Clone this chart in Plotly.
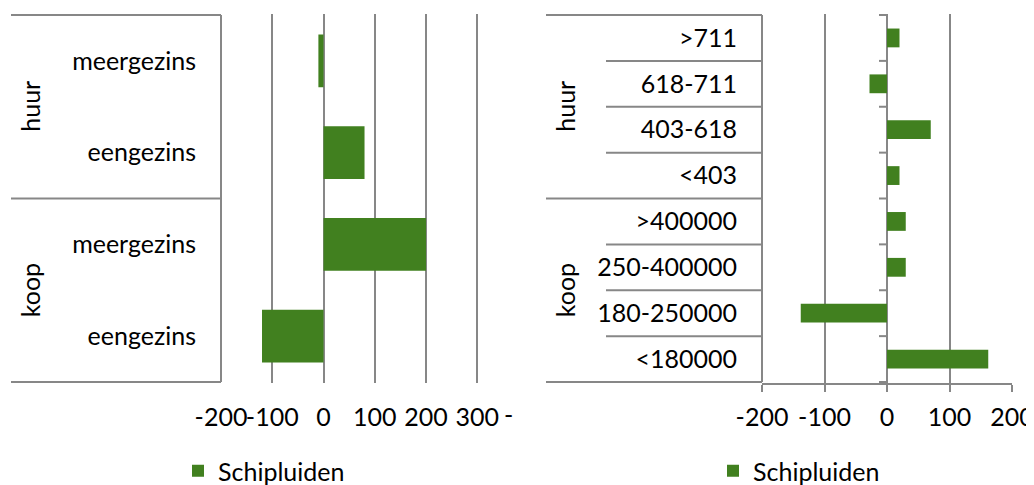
import plotly.graph_objects as go

# ---------------- data ----------------
left_groups = ["huur", "huur", "koop", "koop"]
left_types = ["meergezins", "eengezins", "meergezins", "eengezins"]
left_values = [-10, 80, 200, -120]

right_groups = ["huur", "huur", "huur", "huur", "koop", "koop", "koop", "koop"]
right_classes = [">711", "618-711", "403-618", "<403",
                 ">400000", "250-400000", "180-250000", "<180000"]
right_values = [20, -28, 70, 20, 30, 30, -138, 162]

left_ticks = [-200, -100, 0, 100, 200, 300]
right_ticks = [-200, -100, 0, 100, 200]
series_name = "Schipluiden"

# ---------------- style ----------------
OFF = 8  # page body margin
W, H = 1034 - OFF, 510
GREEN = "#41801F"
GRAY = "#878787"
FONT = dict(family="Lato, 'Open Sans', sans-serif", size=25, color="#000000")


def px(x):
    return (x - OFF) / W


def py(y):
    return 1 - (y - OFF) / H


left_ids = [f"{g}|{t}|{i}" for i, (g, t) in enumerate(zip(left_groups, left_types))]
right_ids = [f"{g}|{c}" for g, c in zip(right_groups, right_classes)]

fig = go.Figure()
fig.add_trace(go.Bar(
    x=left_values, y=left_ids, orientation="h", name=series_name,
    marker=dict(color=GREEN, line=dict(width=0)), width=0.575,
    xaxis="x", yaxis="y", legend="legend", showlegend=True,
))
fig.add_trace(go.Bar(
    x=right_values, y=right_ids, orientation="h", name=series_name,
    marker=dict(color=GREEN, line=dict(width=0)), width=0.41,
    xaxis="x2", yaxis="y2", legend="legend2", showlegend=True,
))

shapes = []
annotations = []


def group_info(groups):
    out = []
    start = 0
    for i in range(1, len(groups) + 1):
        if i == len(groups) or groups[i] != groups[start]:
            out.append((groups[start], start, i - 1))
            start = i
    return out


def hline(xref, x0, x1, yref, y):
    return dict(type="line", xref=xref, yref=yref, x0=x0, x1=x1, y0=y, y1=y,
                line=dict(color=GRAY, width=2), layer="above")


# left chart category box lines
for g, s, e in group_info(left_groups):
    shapes.append(hline("paper", px(11), px(221), "y", s - 0.5))
    annotations.append(dict(xref="paper", yref="y", x=px(30), y=(s + e) / 2,
                            xanchor="center", yanchor="middle",
                            text=g, textangle=-90, showarrow=False, font=FONT))
shapes.append(hline("paper", px(11), px(221), "y", len(left_groups) - 0.5))
shapes.append(dict(type="line", xref="paper", yref="y", x0=px(221), x1=px(221),
                   y0=-0.5, y1=len(left_groups) - 0.5,
                   line=dict(color=GRAY, width=2), layer="above"))

# right chart category box lines
for g, s, e in group_info(right_groups):
    shapes.append(hline("paper", px(546), px(762), "y2", s - 0.5))
    for k in range(s + 1, e + 1):
        shapes.append(hline("paper", px(606), px(762), "y2", k - 0.5))
    annotations.append(dict(xref="paper", yref="y2", x=px(565), y=(s + e) / 2,
                            xanchor="center", yanchor="middle",
                            text=g, textangle=-90, showarrow=False, font=FONT))
shapes.append(hline("paper", px(546), px(762), "y2", len(right_groups) - 0.5))
shapes.append(dict(type="line", xref="paper", yref="y2", x0=px(762), x1=px(762),
                   y0=-0.5, y1=len(right_groups) - 0.5,
                   line=dict(color=GRAY, width=2), layer="above"))
# small tick marks on the zero line at category boundaries
for k in range(len(right_groups) + 1):
    shapes.append(dict(type="line", xref="x2", yref="y2", xsizemode="pixel", xanchor=0,
                       x0=-8, x1=0, y0=k - 0.5, y1=k - 0.5,
                       line=dict(color=GRAY, width=2), layer="above"))

# stray "-" label at the far end of the left value axis
annotations.append(dict(xref="x", yref="paper", x=360, y=py(414), text="-",
                        yanchor="middle", showarrow=False, font=FONT))

fig.update_layout(
    template="none",
    width=W, height=H,
    margin=dict(l=0, r=0, t=0, b=0, pad=0),
    paper_bgcolor="white", plot_bgcolor="rgba(0,0,0,0)",
    font=FONT,
    xaxis=dict(domain=[px(221), px(520)], range=[-200, 383.3], anchor="y",
               tickvals=left_ticks, ticktext=[str(v) for v in left_ticks],
               tickangle=0, automargin=False,
               showgrid=True, gridcolor=GRAY, gridwidth=2,
               zeroline=False, showline=False, ticks="", ticklabelstandoff=17,
               tickfont=FONT, fixedrange=True),
    yaxis=dict(domain=[py(383), py(14)], anchor="x", type="category",
               categoryorder="array", categoryarray=left_ids, autorange="reversed",
               tickvals=left_ids, ticktext=left_types, showgrid=False, automargin=False,
               zeroline=False, showline=False, ticks="", ticklabelstandoff=24,
               tickfont=FONT, fixedrange=True),
    xaxis2=dict(domain=[px(762), px(1012)], range=[-200, 200], anchor="y2",
                tickvals=right_ticks, ticktext=[str(v) for v in right_ticks],
                tickangle=0, automargin=False,
                showgrid=True, gridcolor=GRAY, gridwidth=2,
                zeroline=True, zerolinecolor=GRAY, zerolinewidth=2,
                showline=True, linecolor=GRAY, linewidth=2,
                ticks="outside", ticklen=7, tickwidth=2, tickcolor=GRAY,
                ticklabelstandoff=4, tickfont=FONT, fixedrange=True),
    yaxis2=dict(domain=[py(383), py(14)], anchor="x2", type="category",
                categoryorder="array", categoryarray=right_ids, autorange="reversed",
                tickvals=right_ids, ticktext=right_classes, showgrid=False, automargin=False,
                zeroline=False, showline=False, ticks="", ticklabelstandoff=24,
                tickfont=FONT, fixedrange=True),
    legend=dict(x=px(178), y=py(471), xanchor="left", yanchor="middle",
                orientation="h", font=FONT, bgcolor="rgba(0,0,0,0)", borderwidth=0),
    legend2=dict(x=px(713), y=py(471), xanchor="left", yanchor="middle",
                 orientation="h", font=FONT, bgcolor="rgba(0,0,0,0)", borderwidth=0),
    shapes=shapes,
    annotations=annotations,
    showlegend=True,
)

fig.write_html("out.html")
